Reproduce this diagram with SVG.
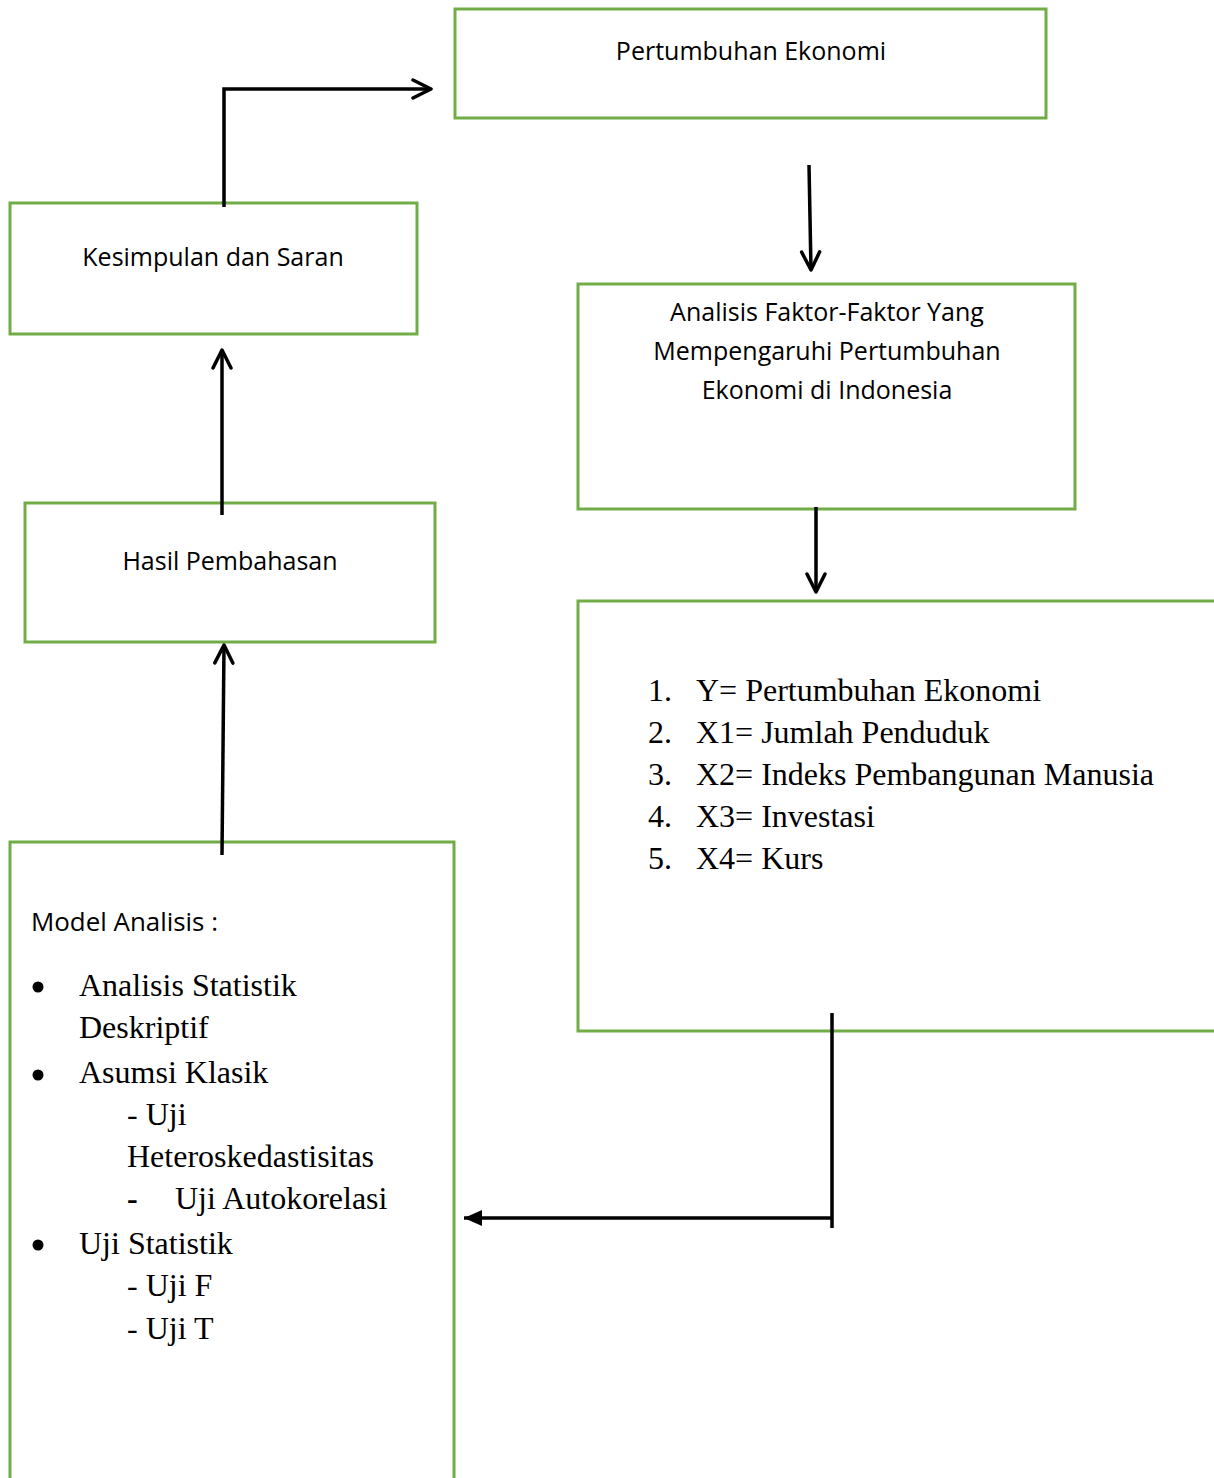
<svg xmlns="http://www.w3.org/2000/svg" width="1214" height="1478" viewBox="0 0 1214 1478">
<style>
.box{fill:#fff;stroke:#70ad47;stroke-width:3}
.sans{font-family:"Open Sans","Noto Sans",sans-serif;font-size:25px;fill:#000}
.serif{font-family:"Liberation Serif","Times New Roman",serif;font-size:32px;fill:#000}
.conn{fill:none;stroke:#000;stroke-width:3.5}
.mid{text-anchor:middle}
</style>
<defs>
<marker id="open2" viewBox="0 0 24 24" refX="22" refY="12" markerWidth="24" markerHeight="24" orient="auto" markerUnits="userSpaceOnUse">
<path d="M4,3 L22,12 L4,21" fill="none" stroke="#000" stroke-width="3.5" stroke-linecap="round" stroke-linejoin="round"/>
</marker>
<marker id="solid" viewBox="0 0 20 16" refX="18" refY="8" markerWidth="20" markerHeight="16" orient="auto" markerUnits="userSpaceOnUse">
<path d="M18,8 L0,0 L0,16 Z" fill="#000"/>
</marker>
</defs>

<g id="node-pertumbuhan">
<rect class="box" x="455" y="9" width="591" height="109"/>
<text class="sans mid" x="751" y="60">Pertumbuhan Ekonomi</text>
</g>

<g id="node-kesimpulan">
<rect class="box" x="10" y="203" width="407" height="131"/>
<text class="sans mid" x="213" y="266">Kesimpulan dan Saran</text>
</g>

<g id="node-analisis">
<rect class="box" x="578" y="284" width="497" height="225"/>
<text class="sans mid" x="827" y="321">Analisis Faktor-Faktor Yang</text>
<text class="sans mid" x="827" y="360">Mempengaruhi Pertumbuhan</text>
<text class="sans mid" x="827" y="399">Ekonomi di Indonesia</text>
</g>

<g id="node-hasil">
<rect class="box" x="25" y="503" width="410" height="139"/>
<text class="sans mid" x="230" y="570">Hasil Pembahasan</text>
</g>

<g id="node-variabel">
<path class="box" d="M1216,601 L578,601 L578,1031 L1216,1031"/>
<text class="serif" x="648" y="701">1.</text>
<text class="serif" x="696" y="701">Y= Pertumbuhan Ekonomi</text>
<text class="serif" x="648" y="743">2.</text>
<text class="serif" x="696" y="743">X1= Jumlah Penduduk</text>
<text class="serif" x="648" y="785">3.</text>
<text class="serif" x="696" y="785">X2= Indeks Pembangunan Manusia</text>
<text class="serif" x="648" y="827">4.</text>
<text class="serif" x="696" y="827">X3= Investasi</text>
<text class="serif" x="648" y="869">5.</text>
<text class="serif" x="696" y="869">X4= Kurs</text>
</g>

<g id="node-model">
<path class="box" d="M10,1480 L10,842 L454,842 L454,1480"/>
<text class="sans" x="31" y="931" textLength="187" lengthAdjust="spacingAndGlyphs">Model Analisis :</text>
<circle cx="38" cy="987" r="5.5"/>
<text class="serif" x="79" y="996">Analisis Statistik</text>
<text class="serif" x="79" y="1038">Deskriptif</text>
<circle cx="38" cy="1075" r="5.5"/>
<text class="serif" x="79" y="1083">Asumsi Klasik</text>
<text class="serif" x="127" y="1125">- Uji</text>
<text class="serif" x="127" y="1167">Heteroskedastisitas</text>
<text class="serif" x="127" y="1209" font-weight="bold">-</text>
<text class="serif" x="175" y="1209">Uji Autokorelasi</text>
<circle cx="38" cy="1245" r="5.5"/>
<text class="serif" x="79" y="1254">Uji Statistik</text>
<text class="serif" x="127" y="1296">- Uji F</text>
<text class="serif" x="127" y="1339">- Uji T</text>
</g>

<g id="connectors">
<path class="conn" d="M224,207 L224,89 L431,89" marker-end="url(#open2)"/>
<path class="conn" d="M809,165 L811,270" marker-end="url(#open2)"/>
<path class="conn" d="M816,507 L816,592" marker-end="url(#open2)"/>
<path class="conn" d="M222,515 L222,350" marker-end="url(#open2)"/>
<path class="conn" d="M222,855 L224,645" marker-end="url(#open2)"/>
<path class="conn" d="M832,1013 L832,1228"/>
<path class="conn" d="M832,1218 L464,1218" marker-end="url(#solid)"/>
</g>
</svg>
